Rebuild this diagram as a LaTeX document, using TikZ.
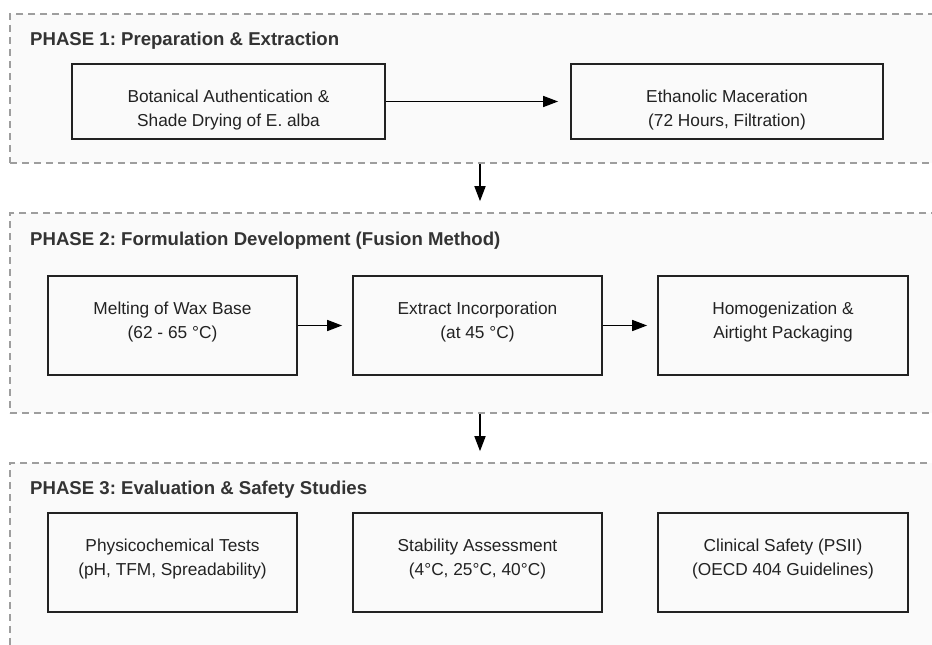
\documentclass[tikz,border=0pt]{standalone}
\usepackage{fontspec}
\setmainfont{Liberation Sans}
\usetikzlibrary{arrows.meta}
\definecolor{clfill}{HTML}{FAFAFA}
\definecolor{cldash}{HTML}{9E9E9E}
\definecolor{ink}{HTML}{222222}
\frenchspacing
\begin{document}
\begin{tikzpicture}[x=1pt,y=-1pt,
  cluster/.style={draw=cldash, fill=clfill, line width=1.6pt, dash pattern=on 7pt off 5pt, rectangle, inner sep=0pt},
  stepbox/.style={draw=ink, fill=clfill, line width=1.8pt, rectangle, inner sep=0pt},
  steptext/.style={anchor=north, yshift=-27pt, inner sep=0pt, align=center,
    font=\fontsize{17.3}{24}\selectfont, text=ink},
  ptitle/.style={anchor=west, font=\fontsize{18.6}{20}\selectfont\bfseries, text=black!80, inner sep=0pt},
  arr/.style={draw=black, line width=1.6pt, -{Triangle[length=15pt,width=11pt]}}]
\fill[white] (0,0) rectangle (932,645);
\clip (0,0) rectangle (932,645);
% clusters
\node[cluster, minimum width=940pt, minimum height=149pt] (p1) at (480,88.5) {};
\node[cluster, minimum width=940pt, minimum height=200pt] (p2) at (480,313) {};
\node[cluster, minimum width=940pt, minimum height=237pt] (p3) at (480,581.5) {};
\node[ptitle] (t1) at (30,41) {PHASE 1: Preparation \& Extraction};
\node[ptitle] (t2) at (30,241) {PHASE 2: Formulation Development (Fusion Method)};
\node[ptitle] (t3) at (30,489.5) {PHASE 3: Evaluation \& Safety Studies};
% phase 1
\node[stepbox, minimum width=313pt, minimum height=75pt,
  label={[steptext]north:{Botanical Authentication \&\\Shade Drying of E. alba}}] (a1) at (228.5,101.5) {};
\node[stepbox, minimum width=312pt, minimum height=75pt,
  label={[steptext]north:{Ethanolic Maceration\\(72 Hours, Filtration)}}] (a2) at (727,101.5) {};
% phase 2
\node[stepbox, minimum width=249pt, minimum height=99pt,
  label={[steptext]north:{Melting of Wax Base\\(62 - 65 °C)}}] (b1) at (172.5,325.5) {};
\node[stepbox, minimum width=249pt, minimum height=99pt,
  label={[steptext]north:{Extract Incorporation\\(at 45 °C)}}] (b2) at (477.5,325.5) {};
\node[stepbox, minimum width=250pt, minimum height=99pt,
  label={[steptext]north:{Homogenization \&\\Airtight Packaging}}] (b3) at (783,325.5) {};
% phase 3
\node[stepbox, minimum width=249pt, minimum height=99pt,
  label={[steptext]north:{Physicochemical Tests\\(pH, TFM, Spreadability)}}] (c1) at (172.5,562.5) {};
\node[stepbox, minimum width=249pt, minimum height=99pt,
  label={[steptext]north:{Stability Assessment\\(4°C, 25°C, 40°C)}}] (c2) at (477.5,562.5) {};
\node[stepbox, minimum width=250pt, minimum height=99pt,
  label={[steptext]north:{Clinical Safety (PSII)\\(OECD 404 Guidelines)}}] (c3) at (783,562.5) {};
% connectors
\draw[arr, shorten >=12pt] (a1.east) -- (a2.west);
\draw[arr, shorten >=10pt] (b1.east) -- (b2.west);
\draw[arr, shorten >=10pt] (b2.east) -- (b3.west);
\draw[arr, shorten >=11pt] (p1.south) -- (p2.north);
\draw[arr, shorten >=11pt] (p2.south) -- (p3.north);
\end{tikzpicture}
\end{document}
